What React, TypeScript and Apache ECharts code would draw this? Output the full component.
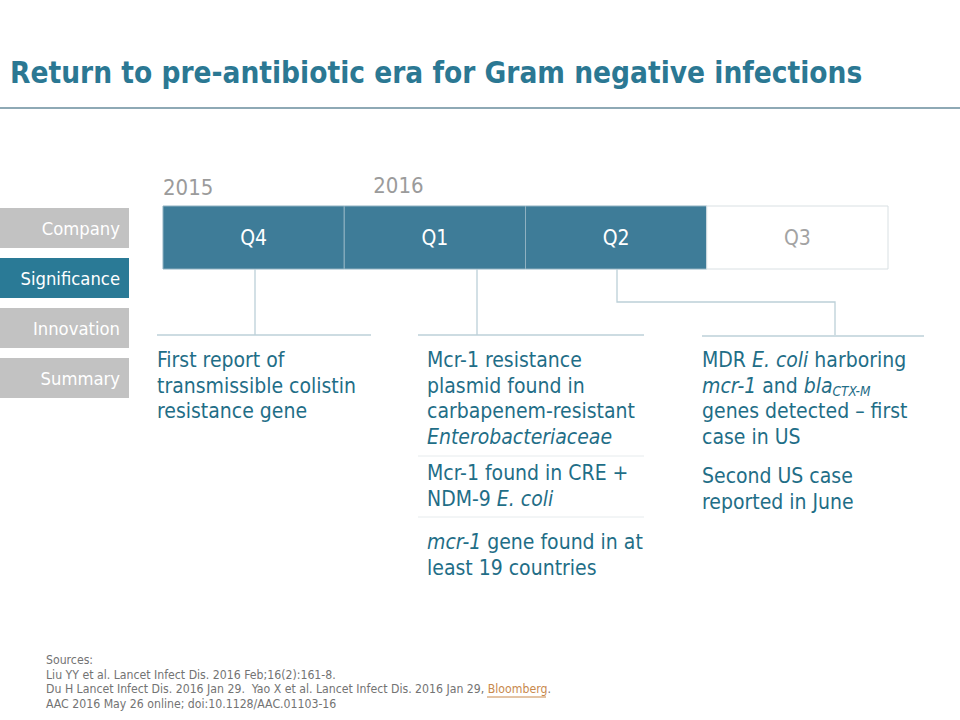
import { useEffect, useRef } from 'react';
import * as echarts from 'echarts';

const TITLE = 'Return to pre-antibiotic era for Gram negative infections';
const navItems = ['Company', 'Significance', 'Innovation', 'Summary'];
const activeNav = 'Significance';
const quarters = ['Q4', 'Q1', 'Q2', 'Q3'];
const completedQuarters = ['Q4', 'Q1', 'Q2'];
const yearLabels = ['2015', '2016'];
const yearStartQuarter = ['Q4', 'Q1'];
const q4Events = [['First report of', 'transmissible colistin', 'resistance gene']];
const q1Events = [
  ['Mcr-1 resistance', 'plasmid found in', 'carbapenem-resistant', '{i|Enterobacteriaceae}'],
  ['Mcr-1 found in CRE +', 'NDM-9 {i|E. coli}'],
  ['{i|mcr-1} gene found in at', 'least 19 countries'],
];
const q2Events = [
  ['MDR {i|E. coli} harboring', '{i|mcr-1} and {i|bla}{sub|CTX-M}', 'genes detected \u2013 first', 'case in US'],
  ['Second US case', 'reported in June'],
];
const sources = [
  'Sources:',
  'Liu YY et al. Lancet Infect Dis. 2016 Feb;16(2):161-8.',
  'Du H Lancet Infect Dis. 2016 Jan 29.  Yao X et al. Lancet Infect Dis. 2016 Jan 29, {link|Bloomberg}.',
  'AAC 2016 May 26 online; doi:10.1128/AAC.01103-16',
];

const FONT = '"DejaVu Sans Condensed", "DejaVu Sans", sans-serif';
const TEAL = '#2b7893';
const TEXT_TEAL = '#1f6e87';
const BAR = '#3e7c98';
const LINE_LIGHT = '#bcd0d8';
const BODY = 21;

export default function App() {
  const ref = useRef<HTMLDivElement>(null);
  useEffect(() => {
    if (!ref.current) return;
    const chart = echarts.init(ref.current, undefined, { renderer: 'svg' });
    const g: any[] = [];

    // title
    g.push({ type: 'text', x: 10, y: 73, style: { text: TITLE, fontFamily: FONT, fontSize: 29.5, fontWeight: 'bold', fill: TEAL, verticalAlign: 'middle' } });
    g.push({ type: 'line', shape: { x1: 0, y1: 108, x2: 960, y2: 108 }, style: { stroke: '#8ea9b5', lineWidth: 2 } });

    // nav
    navItems.forEach((n, i) => {
      const top = 208 + i * 50;
      const active = n === activeNav;
      g.push({ type: 'rect', shape: { x: 0, y: top, width: 129, height: 40 }, style: { fill: active ? '#2a7a96' : '#c2c2c2' } });
      g.push({ type: 'text', x: 120, y: top + 20, style: { text: n, fontFamily: FONT, fontSize: 18.3, fill: '#ffffff', align: 'right', verticalAlign: 'middle' } });
    });

    // quarters
    const bx = 163, by = 206, bw = 181.25, bh = 63;
    quarters.forEach((q, i) => {
      const done = completedQuarters.includes(q);
      g.push({ type: 'rect', shape: { x: bx + i * bw, y: by, width: bw, height: bh }, style: { fill: done ? BAR : '#ffffff', stroke: done ? '#8fb1c1' : '#d9e0e3', lineWidth: 1 } });
      g.push({ type: 'text', x: bx + i * bw + bw / 2, y: by + bh / 2, style: { text: q, fontFamily: FONT, fontSize: 21, fill: done ? '#ffffff' : '#a3a3a3', align: 'center', verticalAlign: 'middle' } });
    });
    yearLabels.forEach((y, i) => {
      const qi = quarters.indexOf(yearStartQuarter[i]);
      const x = i === 0 ? bx : bx + qi * bw + 29;
      g.push({ type: 'text', x, y: i === 0 ? 187 : 185, style: { text: y, fontFamily: FONT, fontSize: 22, fill: '#9b9b9b', verticalAlign: 'middle' } });
    });

    // connectors
    const ls = { stroke: LINE_LIGHT, lineWidth: 1.3 };
    g.push({ type: 'line', shape: { x1: 255, y1: 269, x2: 255, y2: 335 }, style: ls });
    g.push({ type: 'line', shape: { x1: 157, y1: 335, x2: 371, y2: 335 }, style: ls });
    g.push({ type: 'line', shape: { x1: 477, y1: 269, x2: 477, y2: 335 }, style: ls });
    g.push({ type: 'line', shape: { x1: 418, y1: 335, x2: 644, y2: 335 }, style: ls });
    g.push({ type: 'polyline', shape: { points: [[617, 269], [617, 302], [835, 302], [835, 335]] }, style: { ...ls, fill: 'none' } });
    g.push({ type: 'line', shape: { x1: 702, y1: 336, x2: 924, y2: 336 }, style: ls });
    // separators in middle column
    g.push({ type: 'line', shape: { x1: 418, y1: 456, x2: 644, y2: 456 }, style: { stroke: '#e6ebed', lineWidth: 1 } });
    g.push({ type: 'line', shape: { x1: 418, y1: 517, x2: 644, y2: 517 }, style: { stroke: '#e6ebed', lineWidth: 1 } });

    const LH = 25.6;
    const rich = {
      i: { fontStyle: 'italic', fontFamily: FONT, fontSize: BODY, fill: TEXT_TEAL, lineHeight: LH },
      sub: { fontStyle: 'italic', fontFamily: FONT, fontSize: 13.5, fill: TEXT_TEAL, lineHeight: LH, verticalAlign: 'bottom' },
    };
    const block = (x: number, firstCenter: number, lines: string[]) => {
      g.push({ type: 'text', x, y: firstCenter - LH / 2, style: { text: lines.join('\n'), fontFamily: FONT, fontSize: BODY, fill: TEXT_TEAL, lineHeight: LH, verticalAlign: 'top', rich } });
    };
    block(157, 360, q4Events[0]);
    block(427, 360, q1Events[0]);
    block(427, 473, q1Events[1]);
    block(427, 542, q1Events[2]);
    block(702, 360, q2Events[0]);
    block(702, 476, q2Events[1]);

    // sources
    const SLH = 14.7;
    g.push({ type: 'text', x: 46, y: 652.5, style: { text: sources.join('\n'), fontFamily: FONT, fontSize: 12.2, fill: '#737373', lineHeight: SLH, verticalAlign: 'top', rich: { link: { fontFamily: FONT, fontSize: 12.2, fill: '#c8894d', lineHeight: SLH } } } });
    g.push({ type: 'line', shape: { x1: 487, y1: 697, x2: 546, y2: 697 }, style: { stroke: '#c8894d', lineWidth: 1 } });

    chart.setOption({ animation: false, backgroundColor: '#ffffff', graphic: g });
    return () => chart.dispose();
  }, []);
  return <div ref={ref} style={{ position: 'absolute', left: 0, top: 0, width: 960, height: 720 }} />;
}
